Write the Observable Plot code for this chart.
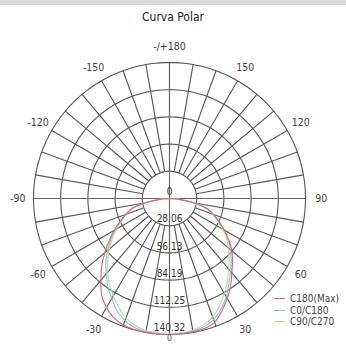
<!DOCTYPE html>
<html>
<head>
<meta charset="utf-8">
<script src="https://cdn.jsdelivr.net/npm/d3@7"></script>
<script src="https://cdn.jsdelivr.net/npm/@observablehq/plot@0.6"></script>
<style>
  html, body { margin: 0; padding: 0; background: #fff; }
  #wrap { position: relative; width: 346px; height: 345px; overflow: hidden;
          font-family: "Liberation Sans Narrow", "DejaVu Sans Condensed", "Roboto", sans-serif; font-stretch: condensed; }
  #bar { position: absolute; left: 0; top: 0; width: 346px; height: 5px; background: #d9d9d9; }
  #title { position: absolute; left: 0; width: 346px; top: 10px; text-align: center; font-size: 12px; color: #222; }
  #chart { position: absolute; left: 0; top: 0; }
  #legend { position: absolute; left: 274px; top: 293px; font-size: 10px; color: #444; line-height: 11.5px; }
  #legend .row { display: flex; align-items: center; white-space: nowrap; }
  #legend .sw { display: inline-block; width: 11px; height: 0; border-top: 1px solid; margin-right: 5px; }
</style>
</head>
<body>
<div id="wrap">
  <div id="chart"></div>
  <div id="bar"></div>
  <div id="title">Curva Polar</div>
  <div id="legend"></div>
</div>
<script>
// ---- data ----
const angles = [-90,-85,-80,-75,-70,-65,-60,-55,-50,-45,-40,-35,-30,-25,-20,-15,-10,-5,0,5,10,15,20,25,30,35,40,45,50,55,60,65,70,75,80,85,90];
const c180max = [0,10,25,40,48,56,66,76,87,99,110,122,130,136,139,140,140.3,140.3,140.3,140,139.5,139,136,128,119,110,100,92,84,75,65,56,48,40,25,10,0];
const c0c180  = [0,10,25,40,48,56,65,74,83,93,101,111,119,128,134,138,139.5,140,140,140,139,137,133,126,117,107,98,90,82,74,65,56,48,40,25,10,0];
const c90c270 = [0,10,25,40,48,55,63,72,81,90,99,108,116,124,131,136,138.5,139,139,139,138,135,130,122,113,104,95,87,79,72,63,55,48,40,25,10,0];
const seriesNames = ["C180(Max)", "C0/C180", "C90/C270"];
const seriesColors = ["#d9667e", "#86c0df", "#b9d99e"];
const ringValues = [28.06, 56.13, 84.19, 112.25, 140.32];
const angleTicks = [-150, -120, -90, -60, -30, 0, 30, 60, 90, 120, 150, 180];
const angleTickText = ["-150", "-120", "-90", "-60", "-30", "0", "30", "60", "90", "120", "150", "-/+180"];

// ---- helpers ----
const R = ringValues[ringValues.length - 1];
const rad = a => a * Math.PI / 180;
const px = (r, a) => r * Math.sin(rad(a));
const py = (r, a) => -r * Math.cos(rad(a));

const curves = [c180max, c0c180, c90c270].flatMap((vals, s) =>
  angles.map((a, i) => ({series: seriesNames[s], a, v: vals[i]})));

const ringPts = ringValues.flatMap(v => d3.range(0, 361, 2).map(a => ({v, a})));
const spokes = d3.range(-170, 181, 10);
const axesLines = [0, 90];

const labelR = 156.5;

const chart = Plot.plot({
  width: 346, height: 345,
  marginLeft: 33, marginRight: 41, marginTop: 62, marginBottom: 11,
  x: {domain: [-R, R], axis: null},
  y: {domain: [-R, R], axis: null},
  style: {fontFamily: "'Liberation Sans Narrow', 'DejaVu Sans Condensed', sans-serif", background: "transparent"},
  marks: [
    Plot.line(ringPts, {x: d => px(d.v, d.a), y: d => py(d.v, d.a), z: "v", stroke: "#555", strokeWidth: 1.1}),
    Plot.link(spokes, {x1: a => px(ringValues[0], a), y1: a => py(ringValues[0], a), x2: a => px(R, a), y2: a => py(R, a), stroke: "#555", strokeWidth: 1.1}),
    Plot.link(axesLines, {x1: a => px(R, a), y1: a => py(R, a), x2: a => px(R, a + 180), y2: a => py(R, a + 180), stroke: "#666", strokeWidth: 1.1}),
    Plot.line(curves, {x: d => px(d.v, d.a), y: d => py(d.v, d.a), z: "series",
      stroke: d => seriesColors[seriesNames.indexOf(d.series)], strokeWidth: 1.1, curve: "catmull-rom",
      sort: {channel: "stroke"}}),
    Plot.text(ringValues, {x: 0, y: v => -v, dy: -6.5, text: v => v.toFixed(2), fill: "#333", fontSize: 10}),
    Plot.text([0], {x: 0, y: 0, dy: -7, text: () => "0", fill: "#333", fontSize: 10}),
    Plot.text(angleTicks, {
      x: a => px(a === 0 ? 144.5 : labelR, a), y: a => py(a === 0 ? 144.5 : labelR, a),
      text: (a, i) => angleTickText[i], fill: "#444", fontSize: a => a === 0 ? 8.5 : 10.5
    })
  ]
});
document.getElementById("chart").appendChild(chart);

const legend = document.getElementById("legend");
seriesNames.forEach((n, i) => {
  const row = document.createElement("div");
  row.className = "row";
  const sw = document.createElement("span");
  sw.className = "sw";
  sw.style.borderTopColor = seriesColors[i];
  row.appendChild(sw);
  row.appendChild(document.createTextNode(n));
  legend.appendChild(row);
});
</script>
</body>
</html>
